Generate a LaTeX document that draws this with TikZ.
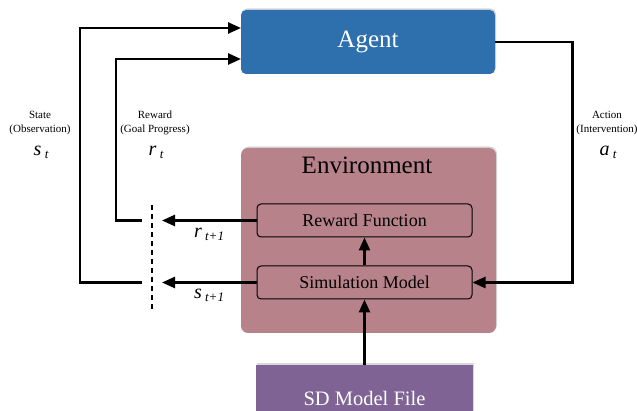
\documentclass[tikz,border=0pt]{standalone}
\usepackage{fontspec}
\setmainfont{Liberation Serif}
\usetikzlibrary{arrows.meta,shadows}
\definecolor{agentblue}{RGB}{46,112,173}
\definecolor{envpink}{RGB}{183,130,138}
\definecolor{filepurple}{RGB}{127,99,149}
\tikzset{every picture/.style={line width=0.75pt},
  flow/.style={line width=2.5pt,-{Triangle[length=13pt,width=11pt]}},
  softshadow/.style={drop shadow={shadow xshift=1pt,shadow yshift=1.5pt,opacity=0.3}},
  subbox/.style={draw,rounded corners=4pt,line width=1pt,minimum width=215pt,minimum height=33pt,font=\fontsize{18}{20}\selectfont},
  smalltxt/.style={align=center,font=\fontsize{11}{14}\selectfont},
  symtxt/.style={font=\fontsize{20}{22}\selectfont\itshape}
}
\newcommand{\symsub}[2]{#1\,\raisebox{-0.3ex}{\fontsize{13}{14}\selectfont #2}}

\begin{document}
\begin{tikzpicture}[x=1pt,y=1pt,yscale=-1,xscale=1]
		\useasboundingbox (0,0) rectangle (637,411);
		
		%Shape: Agent
		\node [fill=agentblue,rounded corners=5pt,softshadow,minimum width=254pt,minimum height=64pt,text=white,font=\fontsize{25}{28}\selectfont] (agent) at (368,42) {Agent};
		%Shape: Environment
		\node [fill=envpink,rounded corners=7pt,softshadow,minimum width=255pt,minimum height=185pt] (env) at (368.5,240.5) {};
		\node [font=\fontsize{25}{28}\selectfont] (envtitle) at (367,165) {Environment};
		\node [subbox] (rewfn) at (364.5,220.5) {Reward Function};
		\node [subbox] (simmod) at (364.5,282.5) {Simulation Model};
		%Shape: SD Model File
		\node [fill=filepurple,softshadow,minimum width=217pt,minimum height=66pt,text=white,font=\fontsize{20.5}{24}\selectfont] (sdfile) at (364.5,398) {SD Model File};
		
		\coordinate (stin) at (241,28);
		\coordinate (rtin) at (241,59);
		\coordinate (rtip) at (162,220.5);
		\coordinate (stip) at (162,282.5);
		\coordinate (rbend) at (142,220.5);
		\coordinate (sbend) at (142,282.5);
		\coordinate (dtop) at (152,205);
		\coordinate (dbot) at (152,311);
		
		%Straight Lines
		\draw [flow] (rewfn.west) -- (rtip);
		\draw [flow] (simmod.west) -- (stip);
		\draw [flow] (rbend) -- ++(-26,0) |- (rtin);
		\draw [flow] (sbend) -- ++(-62,0) |- (stin);
		\draw [line width=1.5pt,dash pattern=on 5pt off 4pt] (dtop) -- (dbot);
		\draw [flow] (agent.east) -- ++(77,0) |- (simmod.east);
		\draw [flow] (simmod.north) -- (rewfn.south);
		\draw [flow] (sdfile.north) -- (simmod.south);
		
		% Text Node
		\node [smalltxt] (statelbl) at (40,123) {State\\(Observation)};
		\node [symtxt] (stsym) at (41,152) {\symsub{s}{t}};
		% Text Node
		\node [smalltxt] (rewlbl) at (155,123) {Reward\\(Goal Progress)};
		\node [symtxt] (rtsym) at (156,152) {\symsub{r}{t}};
		% Text Node
		\node [smalltxt] (actlbl) at (607,123) {Action\\(Intervention)};
		\node [symtxt] (atsym) at (608,152) {\symsub{a}{t}};
		% Text Node
		\node [symtxt] (rtnext) at (209,234) {\symsub{r}{t+1}};
		\node [symtxt] (stnext) at (209,295) {\symsub{s}{t+1}};
		
\end{tikzpicture}
\end{document}
